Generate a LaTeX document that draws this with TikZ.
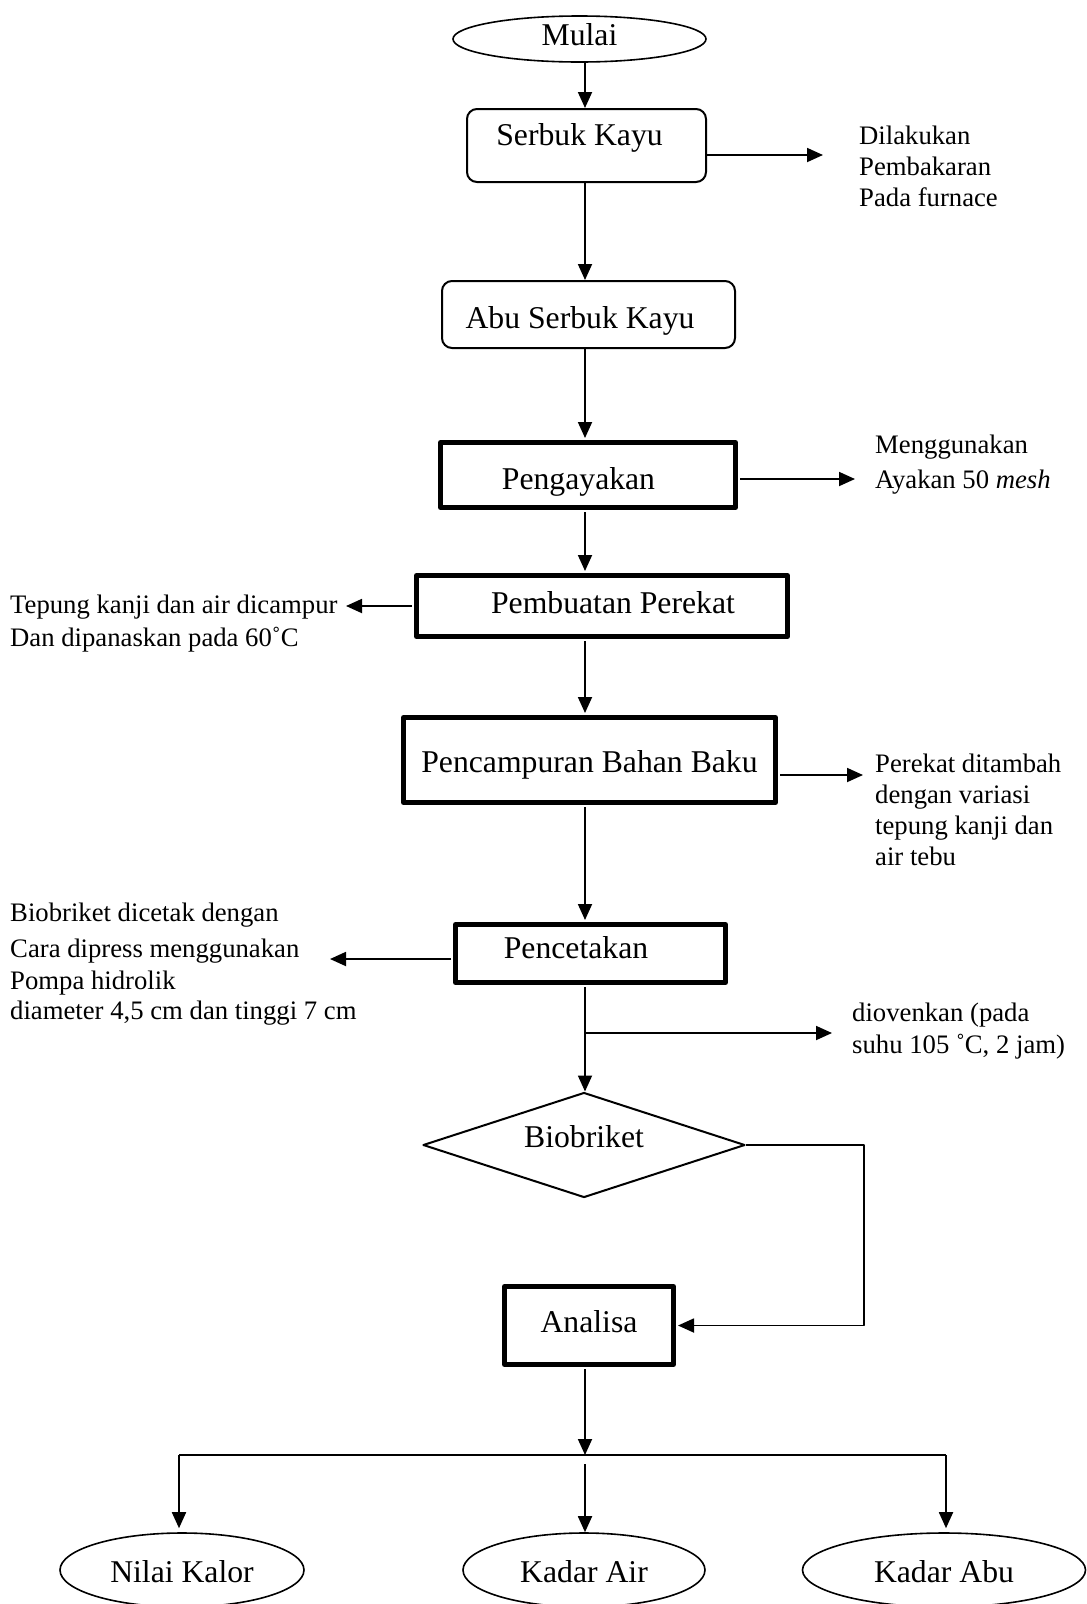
\documentclass[tikz,border=0pt]{standalone}
\usepackage{fontspec}
\setmainfont{Liberation Serif}
\usetikzlibrary{arrows.meta,shapes.geometric}
\newcommand{\boxfont}{\fontsize{31.7pt}{38pt}\selectfont}
\newcommand{\notefont}{\fontsize{26.7pt}{31pt}\selectfont}

\begin{document}
\begin{tikzpicture}[x=1pt, y=-1pt, line join=round,
  flow/.style={-{Triangle[length=16pt,width=14pt]}, line width=1.8pt},
  proc/.style={draw, line width=2pt, rounded corners=10pt, inner sep=0pt, font=\boxfont},
  stage/.style={draw, line width=5pt, inner sep=0pt, font=\boxfont},
  terminal/.style={draw, ellipse, line width=1.6pt, inner sep=0pt, font=\boxfont},
  decision/.style={draw, diamond, aspect=3.07, line width=2pt, inner sep=0pt, font=\boxfont},
  note/.style={anchor=base west, align=left, inner sep=0pt, font=\notefont},
  txt/.style 2 args={text height=#1, text depth=#2}]

\useasboundingbox (0,0) rectangle (1087,1604);
\coordinate (spine) at (585,0);

% ============ MAIN COLUMN ============
\node[terminal, minimum width=253pt, minimum height=46pt, txt={20pt}{8pt}] (mulai) at (579.5,39) {Mulai};
\node[proc, minimum width=239pt, minimum height=73pt, txt={14pt}{14pt}] (serbuk) at (586.5,145.5) {Serbuk Kayu\hspace*{14pt}};
\node[proc, minimum width=293pt, minimum height=67pt, txt={27.5pt}{0.5pt}] (abu) at (588.5,314.5) {Abu Serbuk Kayu\hspace*{17pt}};
\node[stage, minimum width=295pt, minimum height=65pt, txt={28.5pt}{0pt}] (ayak) at (588,475) {Pengayakan\hspace*{19pt}};
\node[stage, minimum width=371pt, minimum height=61pt, txt={21pt}{7pt}] (perekat) at (602,606) {\hspace*{22pt}Pembuatan Perekat};
\node[stage, minimum width=372pt, minimum height=85pt, txt={26pt}{2pt}] (campur) at (589.5,760) {Pencampuran Bahan Baku};
\node[stage, minimum width=270pt, minimum height=58pt, txt={18.5pt}{9.5pt}] (cetak) at (590.5,953.5) {Pencetakan\hspace*{29pt}};
\node[decision, minimum width=322pt, minimum height=105pt, txt={16pt}{12pt}] (bio) at (584,1145) {Biobriket};
\node[stage, minimum width=169pt, minimum height=78pt, txt={20.5pt}{7.5pt}] (analisa) at (589,1325.5) {Analisa};

\draw[flow] (mulai.south -| spine) -- (serbuk.north -| spine);
\draw[flow] (serbuk.south -| spine) -- (abu.north -| spine);
\draw[flow] (abu.south -| spine) -- ([yshift=2pt]ayak.north -| spine);
\draw[flow] ([yshift=-2pt]ayak.south -| spine) -- ([yshift=2pt]perekat.north -| spine);
\draw[flow] ([yshift=-2pt]perekat.south -| spine) -- ([yshift=2pt]campur.north -| spine);
\draw[flow] ([yshift=-2pt]campur.south -| spine) -- ([yshift=2pt]cetak.north -| spine);
\draw[flow] ([yshift=-2pt]cetak.south -| spine) -- (bio.north -| spine);

% ============ SIDE NOTES (placed at the baseline of their last line) ============
\node[note] (furnace) at (859,206) {Dilakukan\\Pembakaran\\Pada furnace};
\coordinate (toFurnace) at (823,155);
\draw[flow] (serbuk.east |- toFurnace) -- (toFurnace);

\node[note] (mesh) at (875,488) {Menggunakan\\[4pt]Ayakan 50 \textit{mesh}};
\coordinate (toMesh) at (855,479);
\draw[flow] ([xshift=2pt]ayak.east |- toMesh) -- (toMesh);

\node[note] (tepung) at (10,646) {Tepung kanji dan air dicampur\\[2pt]Dan dipanaskan pada 60˚C};
\coordinate (toTepung) at (346,606);
\draw[flow] ([xshift=-2pt]perekat.west |- toTepung) -- (toTepung);

\node[note] (variasi) at (875,865) {Perekat ditambah\\dengan variasi\\tepung kanji dan\\air tebu};
\coordinate (toVariasi) at (863,775);
\draw[flow] ([xshift=2pt]campur.east |- toVariasi) -- (toVariasi);

\node[note] (press) at (10,1019) {Biobriket dicetak dengan\\[5pt]Cara dipress menggunakan\\[1pt]Pompa hidrolik\\[-1pt]diameter 4,5 cm dan tinggi 7 cm};
\coordinate (toPress) at (330,959);
\draw[flow] ([xshift=-2pt]cetak.west |- toPress) -- (toPress);

\node[note] (oven) at (852,1053) {diovenkan (pada\\[1pt]suhu 105 ˚C, 2 jam)};
\coordinate (toOven) at (832,1033);
\draw[flow] (toOven -| spine) -- (toOven);

% ============ BIOBRIKET TO ANALISA ============
\coordinate (bypass) at (864,1145);
\draw[flow] (bio.east) -- (bypass) |- ([xshift=2pt]analisa.east);

% ============ ANALYSIS BRANCHES ============
\node[terminal, minimum width=244pt, minimum height=74pt, txt={26pt}{2pt}] (nilai) at (182,1570) {Nilai Kalor};
\node[terminal, minimum width=242pt, minimum height=74pt, txt={26pt}{2pt}] (kair) at (584,1570) {Kadar Air};
\node[terminal, minimum width=283pt, minimum height=74pt, txt={26pt}{2pt}] (kabu) at (944,1570) {Kadar Abu};

\coordinate (split) at (585,1455);
\coordinate (splitL) at (179,1455);
\coordinate (splitR) at (946,1455);
\draw[flow] ([yshift=-2pt]analisa.south -| spine) -- (split);
\draw[line width=2.4pt] (splitL) -- (splitR);
\draw[flow, shorten >=4pt] (splitL) -- (splitL |- nilai.north);
\draw[flow] ([yshift=-9pt]split) -- (split |- kair.north);
\draw[flow, shorten >=4pt] (splitR) -- (splitR |- kabu.north);
\end{tikzpicture}
\end{document}
